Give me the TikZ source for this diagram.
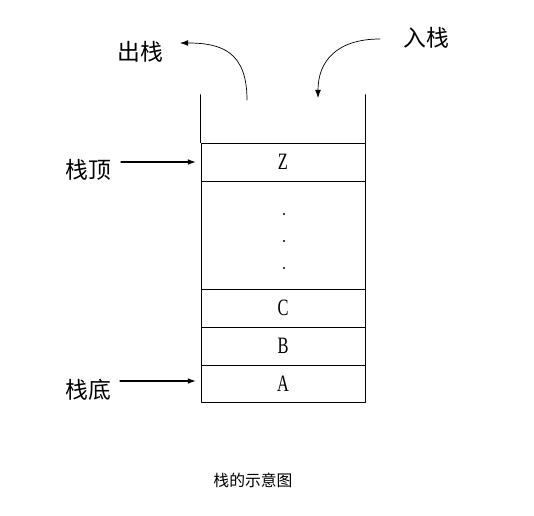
\documentclass[tikz,border=0pt]{standalone}
\usepackage{fontspec}
\usetikzlibrary{arrows.meta}
\newfontfamily\cjk{Noto Sans CJK SC}
\newfontfamily\lettr{Liberation Serif}
\begin{document}
\begin{tikzpicture}[x=0.03cm,y=-0.03cm,line cap=round,line join=round,
  >={Latex[length=7pt,width=5pt]},
  cell/.style={draw,line width=0.6pt,minimum width=4.92cm,inner sep=0pt,
    font=\lettr\fontsize{20}{20}\selectfont},
  lbl/.style={font=\cjk\fontsize{19.5}{19.5}\selectfont},
  dot/.style={circle,fill,inner sep=0pt,minimum size=2pt}]
  \useasboundingbox (0,0) rectangle (534,516);
  % stack cells
  \node[cell,minimum height=1.14cm] (z) at (283,162) {\scalebox{0.7}[1]{Z}};
  \node[cell,minimum height=3.24cm] (dots) at (283,235) {};
  \node[cell,minimum height=1.14cm] (c) at (283,308) {\scalebox{0.7}[1]{C}};
  \node[cell,minimum height=1.14cm] (b) at (283,346) {\scalebox{0.7}[1]{B}};
  \node[cell,minimum height=1.11cm] (a) at (283,383.5) {\scalebox{0.7}[1]{A}};
  \node[dot] (d1) at (284,214) {};
  \node[dot] (d2) at (284,241) {};
  \node[dot] (d3) at (284,268) {};
  % open top
  \draw[line width=0.6pt] (z.north west) -- ++(0,-48);
  \draw[line width=0.6pt] (z.north east) -- ++(0,-48);
  % labels
  \node[lbl] (top) at (88,170) {栈顶};
  \node[lbl] (bottom) at (88,390) {栈底};
  \node[lbl] (pop) at (140,52) {出栈};
  \node[lbl] (push) at (426,38) {入栈};
  \node[font=\cjk\fontsize{13.5}{13.5}\selectfont] (title) at (253,480) {栈的示意图};
  \draw[line width=1.1pt,->,shorten >=4pt] (121,162) -- (z.west);
  \draw[line width=1.1pt,->,shorten >=4pt] (120,381) -- (a.west |- 0,381);
  \coordinate (popstart) at (247,100);
  \coordinate (popend) at (180,43);
  \coordinate (pushstart) at (380,39);
  \coordinate (pushend) at (318,98);
  \draw[line width=0.6pt,->] (popstart) .. controls (247,52) and (222,43) .. (popend);
  \draw[line width=0.6pt,->] (pushstart) .. controls (336,39) and (318,62) .. (pushend);
\end{tikzpicture}
\end{document}
